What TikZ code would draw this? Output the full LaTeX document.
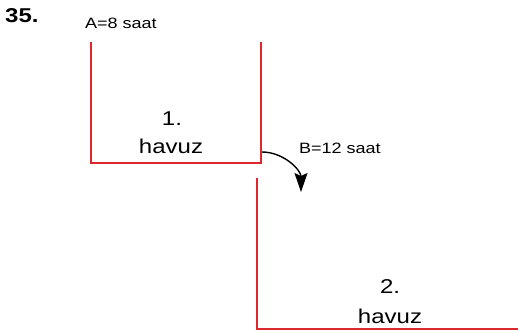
\documentclass[tikz,border=0pt]{standalone}
\usepackage{fontspec}
\setmainfont{Liberation Sans}
\usetikzlibrary{arrows.meta}
\newcommand{\wide}[1]{\scalebox{1.2}[1]{#1}}
\definecolor{poolred}{RGB}{220,40,45}

\begin{document}
\begin{tikzpicture}[x=1pt, y=1pt,
        wall/.style={draw=poolred, line width=1.8pt},
        flow/.style={-{Stealth[length=19pt,width=13pt,inset=3pt]}, line width=1.4pt},
        bigtext/.style={inner sep=0pt, anchor=base, font=\fontsize{20}{22}\selectfont},
        smalltext/.style={inner sep=0pt, anchor=base west, font=\fontsize{15}{17}\selectfont}]
        \useasboundingbox (0,0) rectangle (518,333);

        \node[smalltext, font=\fontsize{20}{22}\selectfont\bfseries] (num) at (5,311) {\wide{35.}};
        \node[smalltext] (timeA) at (85,305) {\wide{A=8 saat}};
        \node[smalltext] (timeB) at (299,180) {\wide{B=12 saat}};

        % first pool
        \draw[wall] (91,291) -- (91,170) -- (261,170) -- (261,291);
        \node[bigtext] (one) at (172,208) {\wide{1.}};
        \node[bigtext] (pool1) at (171,180) {\wide{havuz}};

        % second pool
        \draw[wall] (257,155) -- (257,4) -- (520,4);
        \node[bigtext] (two) at (390,40) {\wide{2.}};
        \node[bigtext] (pool2) at (390,10) {\wide{havuz}};

        \coordinate (start) at (262,181);
        \coordinate (end) at (301,141);
        \draw[flow] (start) to[out=0, in=90] (end);
    \end{tikzpicture}
\end{document}
